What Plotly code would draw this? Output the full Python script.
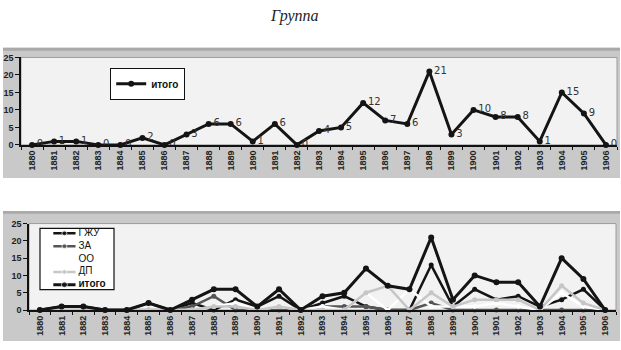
import plotly.graph_objects as go

# ---------------- data ----------------
years = ["1880", "1881", "1882", "1883", "1884", "1885", "1886", "1887", "1888",
         "1889", "1890", "1891", "1892", "1893", "1894", "1895", "1896", "1897",
         "1898", "1899", "1900", "1901", "1902", "1903", "1904", "1905", "1906"]
itogo = [0, 1, 1, 0, 0, 2, 0, 3, 6, 6, 1, 6, 0, 4, 5, 12, 7, 6, 21, 3, 10, 8, 8, 1, 15, 9, 0]
gzhu  = [0, 1, 1, 0, 0, 2, 0, 2, 0, 3, 1, 4, 0, 2, 4, 1, 0, 0, 13, 1, 6, 3, 4, 1, 3, 6, 0]
za    = [0, 0, 0, 0, 0, 0, 0, 1, 4, 0, 0, 0, 0, 1, 1, 1, 0, 0, 2, 0, 0, 0, 0, 0, 0, 0, 0]
oo    = [0, 0, 0, 0, 0, 0, 0, 0, 1, 2, 0, 1, 0, 1, 0, 5, 0, 6, 1, 1, 1, 2, 1, 0, 5, 1, 0]
dp    = [0, 0, 0, 0, 0, 0, 0, 0, 1, 1, 0, 1, 0, 0, 0, 5, 7, 0, 5, 1, 3, 3, 3, 0, 7, 2, 0]
series_names = ["ГЖУ", "ЗА", "ОО", "ДП", "итого"]
y_ticks = [0, 5, 10, 15, 20, 25]
title_text = "Группа"

# ---------------- styling ----------------
W, H = 621, 350
def px(x):
    return x / W
def py(y):
    return 1 - y / H

series_values = [gzhu, za, oo, dp, itogo]
series_colors = ["#141414", "#555555", "#ffffff", "#c6c6c6", "#141414"]
series_widths = [2.5, 2.5, 2.5, 2.5, 3]
series_msize = [5, 5, 5, 5, 6]

tick_font = dict(size=9, family="Liberation Sans", color="#222222", weight="bold")

fig = go.Figure()

# top chart: итого with data labels
fig.add_trace(go.Scatter(
    x=years, y=itogo, name="итого", mode="lines+markers+text",
    text=[str(v) for v in itogo], textposition="middle right",
    textfont=dict(size=10, family="DejaVu Sans", color="#333333"),
    line=dict(color="#141414", width=3), marker=dict(size=6, color="#141414"),
    xaxis="x", yaxis="y", cliponaxis=False, showlegend=True, legend="legend"))

# bottom chart: all series
for name, vals, col, w, ms in zip(series_names, series_values, series_colors,
                                  series_widths, series_msize):
    fig.add_trace(go.Scatter(
        x=years, y=vals, name=name, mode="lines+markers",
        line=dict(color=col, width=w), marker=dict(size=ms, color=col),
        xaxis="x2", yaxis="y2", cliponaxis=False, showlegend=False))

# bottom chart legend (compact, drawn on a small hidden axis)
n = len(series_names)
for i, (name, col, w, ms) in enumerate(zip(series_names, series_colors,
                                            series_widths, series_msize)):
    yy = n - 1 - i
    fig.add_trace(go.Scatter(
        x=[1.8, 3.3, 4.8], y=[yy, yy, yy], mode="lines+markers",
        line=dict(color=col, width=w),
        marker=dict(size=[0, ms, 0], color=col),
        xaxis="x3", yaxis="y3", cliponaxis=False, showlegend=False,
        hoverinfo="skip"))
    fig.add_trace(go.Scatter(
        x=[5.2], y=[yy], mode="text", text=[name], textposition="middle right",
        textfont=dict(size=10, family="Liberation Sans", color="#111111",
                      weight="bold" if name == "итого" else "normal"),
        xaxis="x3", yaxis="y3", cliponaxis=False, showlegend=False,
        hoverinfo="skip"))

def xaxis_cfg(dom, anchor):
    return dict(domain=dom, anchor=anchor, type="category", range=[-0.5, 26.5],
                tickangle=-90, tickson="boundaries", ticks="outside", ticklen=3,
                tickwidth=1, tickcolor="#111", showline=True, linecolor="#111",
                linewidth=2, showgrid=False, zeroline=False, tickfont=tick_font,
                fixedrange=True)

def yaxis_cfg(dom, anchor):
    return dict(domain=dom, anchor=anchor, range=[0, 25], tickvals=y_ticks,
                ticks="outside", ticklen=4, tickwidth=1, tickcolor="#111",
                showline=True, linecolor="#111", linewidth=1.5, showgrid=False,
                zeroline=False, tickfont=tick_font, fixedrange=True)

shapes = []
for (x0, y0, x1, y1, ax0, ay0, ax1, ay1) in [
        (3, 44, 620, 178, 21, 54, 617, 144),
        (3, 212, 620, 346, 29, 225, 616, 314)]:
    shapes.append(dict(type="rect", xref="paper", yref="paper", layer="below",
                       x0=px(x0), x1=px(x1), y0=py(y1), y1=py(y0),
                       fillcolor="#c9c9c9", line=dict(width=0)))
    shapes.append(dict(type="rect", xref="paper", yref="paper", layer="below",
                       x0=px(x0), x1=px(x1), y0=py(y0 + 3), y1=py(y0),
                       fillcolor="#a9a9a9", line=dict(width=0)))
    shapes.append(dict(type="rect", xref="paper", yref="paper", layer="below",
                       x0=px(ax0), x1=px(ax1), y0=py(ay1), y1=py(ay0),
                       fillcolor="#f2f2f2", line=dict(color="#9c9c9c", width=1)))
# bottom legend box
shapes.append(dict(type="rect", xref="paper", yref="paper", layer="below",
                   x0=px(40), x1=px(114), y0=py(293), y1=py(230),
                   fillcolor="#ffffff", line=dict(color="#111", width=1.2)))

fig.update_layout(
    width=W, height=H, margin=dict(l=0, r=0, t=0, b=0),
    paper_bgcolor="#ffffff", plot_bgcolor="rgba(0,0,0,0)",
    xaxis=xaxis_cfg([px(21), px(617)], "y"),
    yaxis=yaxis_cfg([py(144), py(54)], "x"),
    xaxis2=xaxis_cfg([px(29), px(616)], "y2"),
    yaxis2=yaxis_cfg([py(314), py(225)], "x2"),
    xaxis3=dict(domain=[px(40), px(114)], anchor="y3", range=[0, 10],
                visible=False, fixedrange=True),
    yaxis3=dict(domain=[py(293), py(230)], anchor="x3", range=[-0.38, 4.38],
                visible=False, fixedrange=True),
    legend=dict(x=px(110), y=py(65), xanchor="left", yanchor="top",
                bgcolor="#ffffff", bordercolor="#111", borderwidth=1.2,
                font=dict(size=10, family="Liberation Sans", color="#111",
                          weight="bold"),
                itemwidth=30),
    shapes=shapes,
    annotations=[dict(text=title_text, xref="paper", yref="paper",
                      x=px(294), y=py(11), xanchor="center", yanchor="middle",
                      showarrow=False,
                      font=dict(size=16, family="Liberation Serif",
                                color="#222", style="italic"))],
    showlegend=True,
)

fig.write_html("out.html")
